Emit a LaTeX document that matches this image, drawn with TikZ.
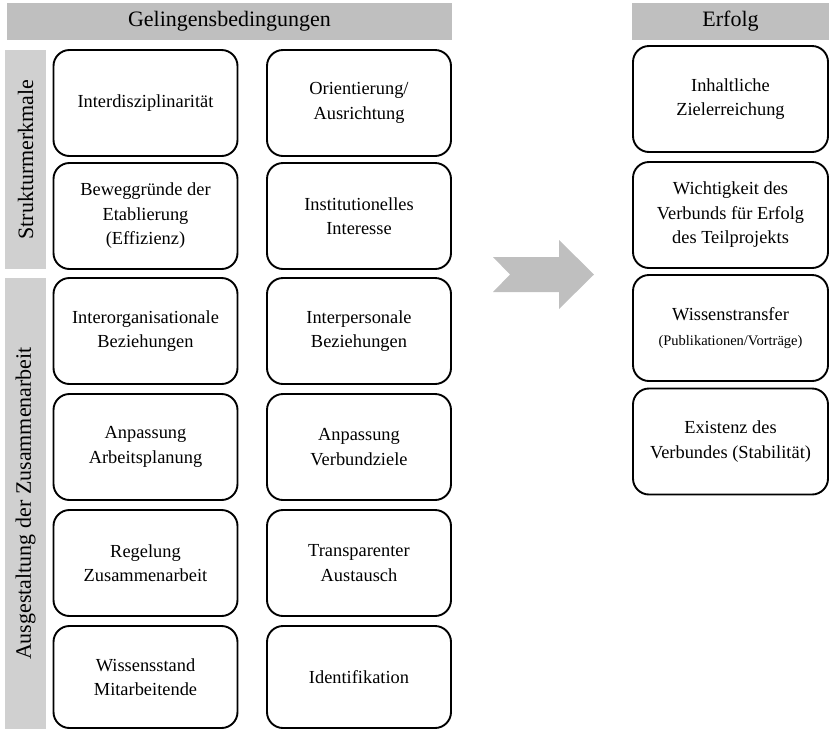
\documentclass[tikz,border=0pt]{standalone}
\usepackage{fontspec}
\setmainfont{Liberation Serif}
\usetikzlibrary{calc}

\begin{document}
\begin{tikzpicture}[x=1pt, y=-1pt,
    box/.style={draw=borderColour, line width=1.9pt, rounded corners=16pt, align=center,
        minimum width=184pt, minimum height=106pt, inner sep=2pt,
        font=\fontsize{18.4}{24.5}\selectfont},
    header/.style={fill=headColour, minimum height=37pt, inner sep=0pt,
        font=\fontsize{22}{26}\selectfont},
    sidebar/.style={fill=sideColour, rotate=90, minimum height=41pt, inner sep=0pt,
        font=\fontsize{22}{26}\selectfont}]

    \definecolor{borderColour}{HTML}{000000}
    \definecolor{headColour}{HTML}{BFBFBF}
    \definecolor{sideColour}{HTML}{D0D0D0}

    % Fix page size
    \useasboundingbox (0,0) rectangle (830,729);

    % Headers
    \node[header, minimum width=445pt] (gelingen) at (229.5,21.5) {Gelingensbedingungen};
    \node[header, minimum width=197pt] (erfolg) at (730.5,21.5) {Erfolg};

    % Side bars
    \node[sidebar, minimum width=219pt] (struktur) at (25.5,159.5) {Strukturmerkmale};
    \node[sidebar, minimum width=451pt] (ausgestaltung) at (25.5,503.5) {Ausgestaltung der Zusammenarbeit};

    % Strukturmerkmale
    \node[box] (interdisz) at (145.5,103) {Interdisziplinarität};
    \node[box] (orient) at (359,103) {Orientierung/\\Ausrichtung};
    \node[box] (beweg) at (145.5,216) {Beweggründe der\\Etablierung\\(Effizienz)};
    \node[box] (instit) at (359,216) {Institutionelles\\Interesse};

    % Ausgestaltung der Zusammenarbeit
    \node[box] (interorg) at (145.5,331) {Interorganisationale\\Beziehungen};
    \node[box] (interpers) at (359,331) {Interpersonale\\Beziehungen};
    \node[box] (arbplan) at (145.5,447) {Anpassung\\Arbeitsplanung};
    \node[box] (verbziele) at (359,447) {Anpassung\\Verbundziele};
    \node[box] (regelung) at (145.5,563) {Regelung\\Zusammenarbeit};
    \node[box] (austausch) at (359,563) {Transparenter\\Austausch};
    \node[box, minimum height=102pt] (wissen) at (145.5,677) {Wissensstand\\Mitarbeitende};
    \node[box, minimum height=102pt] (ident) at (359,677) {Identifikation};

    % Erfolg
    \node[box, minimum width=195pt] (ziel) at (730.5,99) {Inhaltliche\\Zielerreichung};
    \node[box, minimum width=195pt] (wichtig) at (730.5,215) {Wichtigkeit des\\Verbunds für Erfolg\\des Teilprojekts};
    \node[box, minimum width=195pt] (transfer) at (730.5,328) {Wissenstransfer\\{\fontsize{14.5}{18}\selectfont(Publikationen/Vorträge)}};
    \node[box, minimum width=195pt] (existenz) at (730.5,441.5) {Existenz des\\Verbundes (Stabilität)};

    % Block arrow
    \fill[headColour] (493,257) -- (510,274.5) -- (493,292) -- (559,292) -- (559,309)
        -- (594,274.5) -- (559,240) -- (559,257) -- cycle;

\end{tikzpicture}
\end{document}
